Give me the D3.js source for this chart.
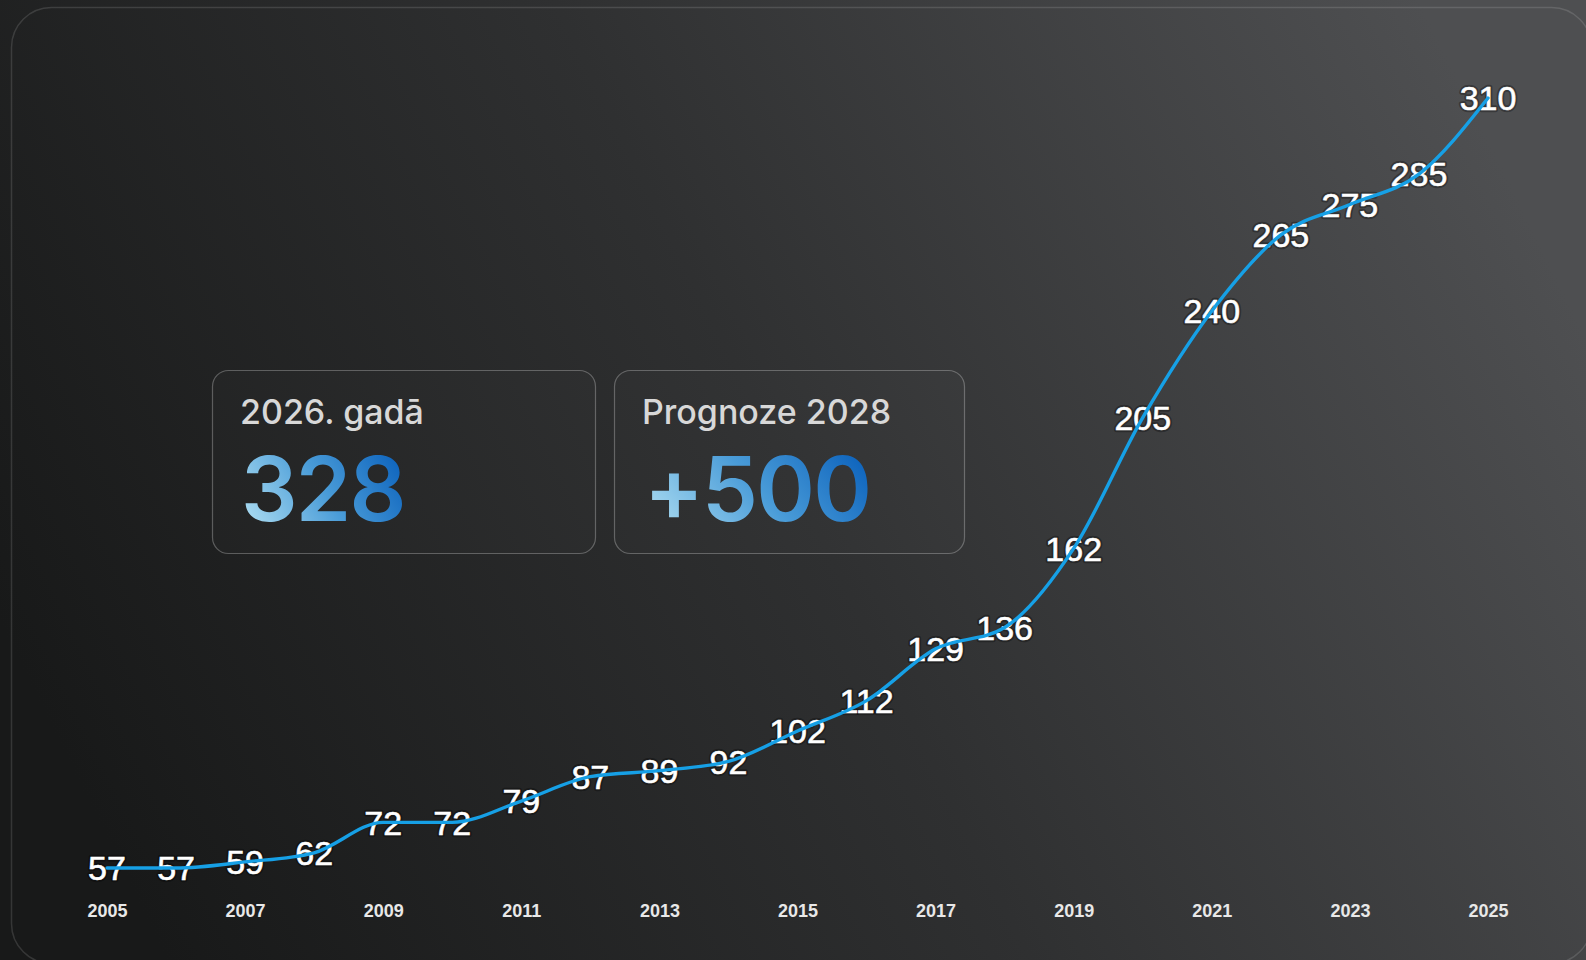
<!DOCTYPE html>
<html>
<head>
<meta charset="utf-8">
<script src="https://cdn.jsdelivr.net/npm/d3@7"></script>
<style>
  html, body { margin: 0; padding: 0; background: #1e1f20; overflow: hidden; }
  svg { display: block; }
</style>
</head>
<body>
<svg id="chart" width="1586" height="960"></svg>
<script>
// ---- data ----
const years = [2005, 2006, 2007, 2008, 2009, 2010, 2011, 2012, 2013, 2014, 2015,
               2016, 2017, 2018, 2019, 2020, 2021, 2022, 2023, 2024, 2025];
const values = [57, 57, 59, 62, 72, 72, 79, 87, 89, 92, 102,
                112, 129, 136, 162, 205, 240, 265, 275, 285, 310];
const tickYears = [2005, 2007, 2009, 2011, 2013, 2015, 2017, 2019, 2021, 2023, 2025];
const cardTitles = ["2026. gadā", "Prognoze 2028"];
const cardValues = ["328", "+500"];

// ---- layout ----
const W = 1586, H = 960;
const svg = d3.select("#chart");
const defs = svg.append("defs");

const bg = defs.append("linearGradient").attr("id", "bg")
  .attr("x1", 0).attr("y1", 0.65).attr("x2", 1).attr("y2", 0.35);
bg.append("stop").attr("offset", "0%").attr("stop-color", "#181919");
bg.append("stop").attr("offset", "50%").attr("stop-color", "#2f3031");
bg.append("stop").attr("offset", "100%").attr("stop-color", "#4e4f51");

const numGrad = defs.append("linearGradient").attr("id", "numGrad")
  .attr("x1", 0).attr("y1", 0.7).attr("x2", 1).attr("y2", 0.3);
numGrad.append("stop").attr("offset", "0%").attr("stop-color", "#a8daf0");
numGrad.append("stop").attr("offset", "50%").attr("stop-color", "#4a9cd8");
numGrad.append("stop").attr("offset", "100%").attr("stop-color", "#0e64bd");

svg.append("rect").attr("width", W).attr("height", H).attr("fill", "url(#bg)");
svg.append("rect")
  .attr("x", 11.5).attr("y", 7.5).attr("width", 1580).attr("height", 956)
  .attr("rx", 40).attr("ry", 40)
  .attr("fill", "none").attr("stroke", "rgba(255,255,255,0.13)").attr("stroke-width", 1.5);

// ---- cards ----
const cards = [
  { x: 212, y: 370, w: 383, h: 183 },
  { x: 614, y: 370, w: 350, h: 183 }
];
const cg = svg.append("g").selectAll("g").data(cards).join("g")
  .attr("transform", d => `translate(${d.x},${d.y})`);
cg.append("rect")
  .attr("x", 0.5).attr("y", 0.5)
  .attr("width", d => d.w).attr("height", d => d.h)
  .attr("rx", 16).attr("ry", 16)
  .attr("fill", "rgba(255,255,255,0.015)")
  .attr("stroke", "rgba(255,255,255,0.27)").attr("stroke-width", 1.2);
cg.append("text")
  .attr("x", 28).attr("y", 54)
  .attr("font-family", "Inter, 'Noto Sans', sans-serif")
  .attr("font-size", 34).attr("font-weight", 500)
  .attr("fill", "#d8d8d8")
  .text((d, i) => cardTitles[i]);
cg.append("text")
  .attr("x", (d, i) => i === 0 ? 29 : 30).attr("y", 151)
  .attr("font-family", "Inter, 'Noto Sans', sans-serif")
  .attr("font-size", 89).attr("font-weight", 600)
  .attr("letter-spacing", -1.8)
  .attr("fill", "url(#numGrad)")
  .text((d, i) => cardValues[i]);

// ---- scales ----
const x = d3.scalePoint().domain(years).range([107, 1488]);
const y = d3.scaleLinear().domain(d3.extent(values)).range([868, 98]);
const data = years.map((yr, i) => ({ year: yr, value: values[i] }));

// ---- x axis (labels only) ----
const xAxis = d3.axisBottom(x).tickValues(tickYears).tickSize(0).tickPadding(0);
const ax = svg.append("g").attr("transform", "translate(0,904)").call(xAxis);
ax.select(".domain").remove();
ax.selectAll("text")
  .attr("dy", null).attr("y", 13)
  .attr("font-family", "'Liberation Sans', Arial, sans-serif")
  .attr("font-size", 18).attr("font-weight", 700)
  .attr("fill", "#e8e8e8");

// ---- value labels ----
const labelFont = "'Liberation Sans', Arial, sans-serif";
const lg = svg.append("g");
lg.selectAll("text.halo").data(data).join("text")
  .attr("class", "halo")
  .attr("x", d => x(d.year))
  .attr("y", d => y(d.value))
  .attr("dy", "0.36em")
  .attr("text-anchor", "middle")
  .attr("font-family", labelFont)
  .attr("font-size", 34)
  .attr("fill", "none")
  .attr("stroke", "rgba(0,0,0,0.3)").attr("stroke-width", 4.5)
  .attr("stroke-linejoin", "round")
  .text(d => d.value);
lg.selectAll("text.lbl").data(data).join("text")
  .attr("class", "lbl")
  .attr("x", d => x(d.year))
  .attr("y", d => y(d.value))
  .attr("dy", "0.36em")
  .attr("text-anchor", "middle")
  .attr("font-family", labelFont)
  .attr("font-size", 34)
  .attr("fill", "#ffffff")
  .attr("stroke", "#ffffff").attr("stroke-width", 0.6)
  .text(d => d.value);

// ---- line ----
const line = d3.line().x(d => x(d.year)).y(d => y(d.value)).curve(d3.curveMonotoneX);
svg.append("path").datum(data)
  .attr("d", line)
  .attr("fill", "none")
  .attr("stroke", "#16a0e6")
  .attr("stroke-width", 3.4)
  .attr("stroke-linecap", "round")
  .attr("stroke-linejoin", "round");
</script>
</body>
</html>
